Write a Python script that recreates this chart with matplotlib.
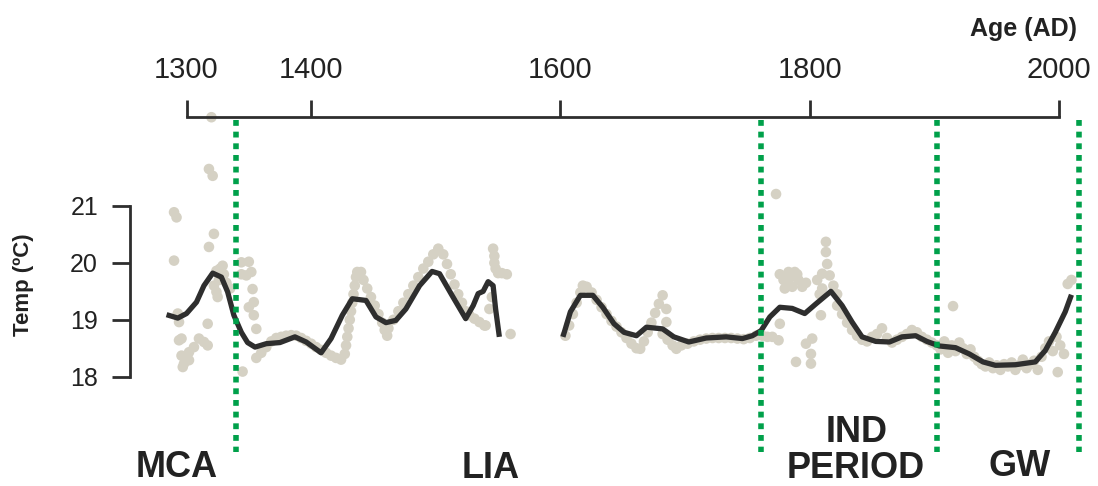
import matplotlib
matplotlib.use("Agg")
import matplotlib.pyplot as plt

plt.rcParams['font.family'] = ['Liberation Sans', 'DejaVu Sans']

# Smoothed temperature reconstruction, two segments with a gap in the 1550s-1600
smooth_early_years = [1284, 1293, 1300, 1308, 1314, 1321, 1328, 1333, 1338, 1344, 1349,
                      1355, 1364, 1375, 1387, 1396, 1408, 1416, 1425, 1433, 1444, 1452,
                      1460, 1468, 1476, 1487, 1497, 1503, 1513, 1524, 1530, 1534, 1538,
                      1542, 1546, 1548, 1551]
smooth_early_temps = [19.09, 19.03, 19.11, 19.31, 19.60, 19.82, 19.75, 19.49, 19.08, 18.78, 18.60,
                      18.52, 18.58, 18.60, 18.70, 18.61, 18.42, 18.67, 19.08, 19.37, 19.34, 19.05,
                      18.95, 18.99, 19.19, 19.60, 19.85, 19.81, 19.43, 19.02, 19.25, 19.46, 19.50,
                      19.67, 19.60, 19.19, 18.70]

smooth_late_years = [1602, 1608, 1616, 1626, 1634, 1643, 1651, 1661, 1669, 1682, 1691,
                     1703, 1717, 1733, 1746, 1754, 1761, 1768, 1776, 1786, 1796, 1805,
                     1817, 1826, 1834, 1842, 1853, 1864, 1874, 1885, 1894, 1904, 1917,
                     1928, 1939, 1949, 1965, 1981, 1989, 1997, 2005, 2010]
smooth_late_temps = [18.70, 19.14, 19.43, 19.43, 19.22, 18.93, 18.78, 18.72, 18.87, 18.84, 18.70,
                     18.61, 18.68, 18.70, 18.67, 18.72, 18.81, 19.05, 19.22, 19.20, 19.11, 19.28,
                     19.50, 19.25, 18.96, 18.70, 18.62, 18.61, 18.70, 18.72, 18.62, 18.54, 18.51,
                     18.40, 18.26, 18.20, 18.21, 18.26, 18.46, 18.78, 19.14, 19.44]

# Individual reconstructed values
raw_years = [
    # 1280-1360
    1290, 1292, 1322, 1318, 1290, 1320, 1318, 1321,
    1324, 1327, 1330, 1326, 1324, 1325, 1332, 1335, 1329, 1322,
    1350, 1352, 1348, 1344, 1344, 1353, 1354, 1350, 1354, 1356,
    1293, 1317, 1294, 1294, 1296, 1297, 1296, 1302, 1306, 1310, 1314, 1317, 1302, 1298,
    1345,
    # 1355-1560
    1356, 1360, 1364, 1368, 1372, 1376, 1380, 1384, 1388,
    1392, 1396, 1400, 1404, 1408, 1412, 1416, 1420, 1424,
    1427, 1428, 1429, 1430, 1431, 1432, 1433, 1434, 1435, 1436, 1437, 1440,
    1442, 1445, 1448, 1451, 1454, 1457, 1459, 1461,
    1462, 1466, 1470, 1474, 1478, 1482, 1486, 1490, 1494, 1498, 1502,
    1506, 1509, 1512, 1515, 1518, 1521, 1524, 1527, 1531, 1535, 1539,
    1546, 1547, 1547, 1548, 1550, 1553, 1557, 1543, 1540, 1545,
    1560,
    # 1600-1760
    1604, 1607, 1610, 1613, 1616, 1618,
    1621, 1625, 1629, 1633, 1637, 1641, 1645, 1649, 1653, 1657, 1661, 1664,
    1667, 1670, 1673, 1676, 1679, 1682, 1685, 1685,
    1682, 1686, 1690, 1693,
    1697, 1702, 1707, 1712, 1717, 1722, 1727, 1732, 1737, 1742, 1747, 1752, 1757,
    # 1760-1900
    1773,
    1776, 1779, 1782, 1785, 1788, 1791, 1794, 1797, 1780, 1786, 1790, 1783,
    1813, 1813, 1814, 1810, 1816, 1806, 1810, 1819, 1822, 1808,
    1809, 1776, 1762, 1766, 1770, 1775, 1802, 1797, 1801, 1789, 1801,
    1822, 1826, 1830, 1834, 1838, 1842,
    1846, 1850, 1854, 1858, 1862, 1866, 1870, 1874, 1878, 1882, 1886, 1890, 1894, 1898,
    # 1900-2015
    1915,
    1902, 1905, 1908, 1911, 1914, 1917, 1920, 1923, 1926, 1929, 1932, 1935, 1938, 1941,
    1944, 1947, 1950, 1953, 1956, 1959, 1962, 1965, 1968, 1971, 1974, 1977, 1980, 1983,
    1986, 1989, 1992, 1995, 1998, 1999, 2001, 2004, 2007, 2010,
]
raw_temps = [
    20.89, 20.80, 20.51, 20.28, 20.04, 22.56, 21.65, 21.53,
    19.86, 19.90, 19.80, 19.70, 19.49, 19.40, 19.65, 19.55, 19.95, 19.60,
    20.02, 19.84, 19.78, 20.01, 19.80, 19.54, 19.31, 19.22, 19.08, 18.84,
    19.11, 18.93, 18.64, 18.96, 18.37, 18.17, 18.67, 18.43, 18.52, 18.67, 18.61, 18.55, 18.29, 18.23,
    18.09,
    18.33, 18.42, 18.52, 18.62, 18.68, 18.70, 18.72, 18.73, 18.72,
    18.68, 18.63, 18.58, 18.52, 18.47, 18.42, 18.37, 18.33, 18.30,
    18.40, 18.55, 18.70, 18.85, 19.00, 19.15, 19.30, 19.45, 19.60, 19.75, 19.84, 19.84,
    19.70, 19.55, 19.40, 19.25, 19.10, 18.95, 18.82, 18.72,
    18.85, 19.00, 19.15, 19.30, 19.45, 19.60, 19.75, 19.90, 20.02, 20.15, 20.25,
    20.15, 19.98, 19.80, 19.62, 19.45, 19.30, 19.15, 19.08, 19.02, 18.96, 18.90,
    20.25, 20.12, 20.00, 19.90, 19.82, 19.82, 19.80, 19.19, 18.90, 19.40,
    18.75,
    18.72, 18.90, 19.10, 19.30, 19.48, 19.60,
    19.58, 19.48, 19.35, 19.22, 19.10, 18.98, 18.88, 18.78, 18.68, 18.58, 18.50, 18.49,
    18.62, 18.78, 18.95, 19.12, 19.28, 19.43, 19.19, 18.96,
    18.75, 18.65, 18.55, 18.49,
    18.55, 18.58, 18.62, 18.65, 18.67, 18.68, 18.68, 18.68, 18.68, 18.67, 18.66, 18.68, 18.72,
    21.21,
    19.80, 19.70, 19.62, 19.75, 19.84, 19.70, 19.58, 19.65, 19.55, 19.58, 19.80, 19.84,
    20.37, 20.19, 19.98, 19.81, 19.78, 19.70, 19.55, 19.60, 19.45, 19.45,
    19.08, 18.93, 18.72, 18.70, 18.70, 18.64, 18.67, 18.58, 18.40, 18.26, 18.23,
    19.25, 19.10, 18.95, 18.82, 18.72, 18.65,
    18.62, 18.70, 18.75, 18.85, 18.68, 18.60, 18.65, 18.70, 18.75, 18.82, 18.78, 18.70, 18.65, 18.60,
    19.24,
    18.55, 18.48, 18.62, 18.42, 18.55, 18.45, 18.60, 18.50, 18.40, 18.48, 18.35, 18.28, 18.22, 18.18,
    18.25, 18.15, 18.20, 18.12, 18.22, 18.18, 18.25, 18.12, 18.20, 18.30, 18.15, 18.22, 18.28, 18.12,
    18.35, 18.50, 18.62, 18.45, 18.70, 18.08, 18.55, 18.40, 19.63, 19.70,
]

# Period boundaries (AD) and period names
boundary_years = [1340, 1761, 1902, 2016]
period_names = ["MCA", "LIA", "IND", "PERIOD", "GW"]

age_ticks = [1300, 1400, 1600, 1800, 2000]
temp_ticks = [18, 19, 20, 21]

W, H = 1098, 486
fig = plt.figure(figsize=(W / 100, H / 100), dpi=100)
ax = fig.add_axes([0, 0, 1, 1])
ax.set_xlim(1150.37, 2031.3)
ax.set_ylim(16.079, 24.62)
ax.patch.set_visible(False)

ink = '#2e2e2e'
dot_color = '#d5d1c4'
green = '#00a04a'

ax.scatter(raw_years, raw_temps, s=58, color=dot_color, edgecolors='none', zorder=1)
ax.plot(smooth_early_years, smooth_early_temps, color=ink, lw=3.8,
        solid_capstyle='butt', solid_joinstyle='round', zorder=3)
ax.plot(smooth_late_years, smooth_late_temps, color=ink, lw=3.8,
        solid_capstyle='butt', solid_joinstyle='round', zorder=3)

for yr in boundary_years:
    ax.plot([yr, yr], [22.51, 16.68], color=green, lw=4.0,
            linestyle=(0, (1.05, 1.05)), solid_capstyle='butt', zorder=4)

# Axes: age along a top bar, temperature on a short left bar
for side in ('right', 'bottom'):
    ax.spines[side].set_visible(False)
ax.spines['top'].set_position(('data', 22.564))
ax.spines['top'].set_bounds(1300, 2000)
ax.spines['left'].set_position(('data', 1254.7))
ax.spines['left'].set_bounds(18, 21)
for side in ('top', 'left'):
    ax.spines[side].set_color(ink)
    ax.spines[side].set_linewidth(2.0)
    ax.spines[side].set_capstyle('projecting')

ax.xaxis.tick_top()
ax.set_xticks(age_ticks)
ax.set_xticklabels([str(t) for t in age_ticks])
ax.set_yticks(temp_ticks)
ax.set_yticklabels([str(t) for t in temp_ticks])
ax.tick_params(axis='x', direction='out', length=12.5, width=2.0, color=ink,
               labelsize=21, labelcolor='#222222', pad=11)
ax.tick_params(axis='y', direction='out', length=13, width=2.0, color=ink,
               labelsize=18, labelcolor='#222222', pad=10)

ax.text(23 / W, 1 - 285 / H, 'Temp (ºC)', transform=fig.transFigure, rotation=90,
        ha='center', va='center', fontsize=16, fontweight='bold', color='#222222')
ax.text(1024 / W, 1 - 29 / H, 'Age (AD)', transform=fig.transFigure,
        ha='center', va='center', fontsize=18, fontweight='bold', color='#222222')

label_spots = [(177, 477), (491, 478), (857, 442), (856, 478), (1020, 476)]
for name, (px, py) in zip(period_names, label_spots):
    ax.text(px / W, 1 - py / H, name, transform=fig.transFigure, ha='center',
            va='baseline', fontsize=26, fontweight='bold', color='#222222')

fig.savefig('out.png', dpi=100)
